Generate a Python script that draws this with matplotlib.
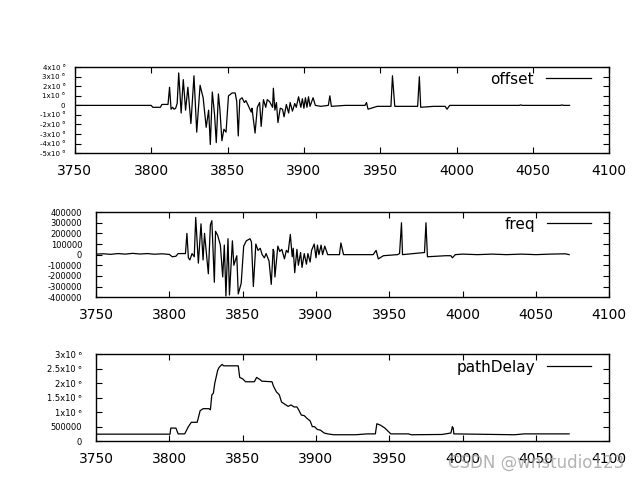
import numpy as np
import matplotlib.pyplot as plt

# offset (values in units of 1e6)
offset_t = [3750, 3800, 3801, 3806, 3807, 3811, 3812, 3813, 3814, 3815, 3816, 3817,
            3818, 3819.6, 3821, 3822.5, 3824, 3826, 3828, 3829.8, 3832, 3834, 3836, 3837.6,
            3838.7, 3840, 3841.5, 3842.6, 3844, 3845, 3846.3, 3847.6, 3849, 3850.6, 3853, 3855,
            3856, 3857, 3858, 3859.5, 3861, 3862, 3863.5, 3865.5, 3866, 3868, 3869.5, 3871,
            3872, 3873.5, 3875, 3876, 3877.5, 3879.5, 3880, 3881, 3882, 3883, 3884.5, 3886,
            3887, 3888.5, 3890, 3891, 3892.5, 3894, 3895, 3896.5, 3898, 3899, 3900, 3901,
            3902, 3903, 3904, 3906, 3907.5, 3911, 3916, 3917, 3918, 3927, 3940, 3941,
            3942, 3944, 3948, 3957, 3958, 3959.5, 3974.5, 3975.6, 3976.5, 3985, 3992.5, 3993.7,
            3995.5, 4041, 4042, 4043, 4068, 4069, 4070, 4074]
offset_v = [0, 0, -0.2, -0.2, 0.1, 0.1, 1.9, -0.4, -0.2, -0.4, -0.3, 0.2,
            3.4, -0.8, 2.7, -0.5, 1.9, -1.9, 3.1, -2.8, 2.1, 0.8, -2.3, -0.5,
            -4.1, 1.4, -1.0, -3.9, 1.2, -0.5, -3.7, -2.5, -2.8, 1.0, 1.3, 1.3,
            0.4, -3.2, 0.6, 0.8, 0.3, 0.5, 0, -0.7, -0.3, -2.9, -0.2, 0.3,
            -2.2, 0.6, -0.2, 0.6, 0.4, -0.2, 1.8, -0.5, 0.3, -1.8, -0.3, -0.4,
            -1.2, 0.1, -0.8, 0.3, -0.6, 0.2, -0.2, 0.9, -0.2, 0.7, -0.3, 0.8,
            -0.2, 0.9, -0.1, 0.8, 0, -0.1, 0, 1.0, -0.1, 0, 0, 0.3,
            -0.4, -0.3, -0.1, -0.1, 3.1, -0.1, -0.1, 3.0, -0.2, -0.1, -0.1, -0.4,
            0, 0, 0.05, 0, 0, 0.05, 0, 0]

freq_t = [3750, 3755, 3760, 3765, 3770, 3775, 3780, 3785, 3790, 3795, 3800, 3802,
          3804.5, 3806, 3811, 3812, 3813, 3814, 3815.5, 3817, 3818, 3819.8, 3821.6, 3823,
          3824, 3826.6, 3828, 3829, 3830.7, 3831.5, 3833, 3834.8, 3836.4, 3837.5, 3838.6, 3840,
          3841, 3843, 3844, 3846, 3847, 3849, 3850.7, 3852.5, 3855, 3856, 3857.3, 3859,
          3860.5, 3862, 3863.3, 3864.8, 3866, 3868, 3869.5, 3870.8, 3871.3, 3872, 3874, 3875.3,
          3876.7, 3878.5, 3879.8, 3881, 3882.5, 3883.8, 3884.5, 3885.5, 3887, 3888, 3889.5, 3890.5,
          3892, 3893.5, 3894.5, 3896, 3897, 3898.8, 3900, 3901, 3902, 3903.5, 3904.5, 3906,
          3908, 3916, 3917, 3918.8, 3939, 3941, 3942.5, 3946, 3955.6, 3957, 3958.3, 3959,
          3974, 3975, 3976, 3988.5, 3992, 3993, 3995, 4000, 4010, 4020, 4030, 4040,
          4050, 4060, 4070, 4072.6]
freq_v = [5000, 8000, 3000, 10000, 5000, 12000, 6000, 10000, 4000, 8000, 2000, -20000,
          -15000, 10000, 10000, 200000, -30000, -50000, 10000, -20000, 350000, -80000, 290000, -50000,
          200000, -180000, 280000, 320000, -260000, 220000, 180000, 90000, -210000, 90000, -390000, 150000,
          -380000, 130000, -100000, -10000, -370000, -270000, 80000, 130000, 150000, 120000, -300000, 100000,
          40000, 60000, 0, -30000, 10000, -60000, -280000, 50000, 30000, -210000, 80000, 30000,
          50000, -40000, 40000, 20000, 190000, -20000, 60000, -170000, 50000, -100000, 20000, -120000,
          10000, -90000, 10000, -70000, 40000, 100000, -30000, 90000, 0, 90000, 0, 80000,
          0, 0, 110000, 0, 0, 40000, -40000, -10000, 0, 10000, 300000, 0,
          20000, 300000, -20000, -10000, -10000, -30000, 0, 5000, 0, 5000, 0, 5000,
          0, 5000, 8000, 0]

# pathDelay (values in units of 1e6)
delay_t = [3750, 3800.5, 3801, 3804.5, 3806, 3810.5, 3813, 3815, 3819, 3821, 3823, 3827,
           3828, 3829, 3830, 3831, 3833, 3834, 3836, 3837, 3847, 3848, 3850, 3852,
           3858, 3859.5, 3862, 3863, 3870, 3871, 3873, 3875, 3876.5, 3878, 3881, 3883,
           3885, 3887, 3888, 3890, 3892, 3894, 3896, 3897.5, 3899, 3901, 3903, 3905.6,
           3908, 3912, 3927, 3935, 3940.5, 3941.5, 3944, 3947, 3949, 3951, 3963, 3965,
           3986, 3992, 3993, 3993.6, 3994, 4035.6, 4042, 4072.6]
delay_v = [0.24, 0.24, 0.45, 0.45, 0.25, 0.25, 0.5, 0.65, 0.65, 1.05, 1.12, 1.12,
           1.08, 1.6, 1.65, 2.0, 2.45, 2.55, 2.65, 2.6, 2.6, 2.2, 2.15, 2.05,
           2.05, 2.2, 2.12, 2.07, 2.05, 1.9, 1.7, 1.6, 1.35, 1.3, 1.2, 1.25,
           1.18, 1.18, 1.1, 0.9, 0.88, 0.78, 0.7, 0.5, 0.5, 0.4, 0.38, 0.28,
           0.25, 0.22, 0.22, 0.25, 0.25, 0.6, 0.55, 0.45, 0.35, 0.25, 0.25, 0.22,
           0.23, 0.28, 0.5, 0.45, 0.25, 0.22, 0.25, 0.25]

xticks = [3750, 3800, 3850, 3900, 3950, 4000, 4050, 4100]
offset_ticks = [4, 3, 2, 1, 0, -1, -2, -3, -4, -5]
freq_ticks = [400000, 300000, 200000, 100000, 0, -100000, -200000, -300000, -400000]
delay_ticks = [0, 0.5, 1, 1.5, 2, 2.5, 3]


def sci(v):
    if v == 0:
        return '0'
    return '%gx10 \u2076' % v


def style(ax, ylim, yticks, ylabels, ysize, ypad, leg_y):
    ax.set_xlim(3750, 4100)
    ax.set_ylim(*ylim)
    ax.set_xticks(xticks)
    ax.set_yticks(yticks)
    ax.set_yticklabels(ylabels)
    ax.tick_params(axis='x', direction='in', top=True, length=4, labelsize=10, pad=8)
    ax.tick_params(axis='y', direction='in', right=True, length=4, labelsize=ysize, pad=ypad)
    for s in ax.spines.values():
        s.set_linewidth(1.0)
    ax.legend(loc='center right', bbox_to_anchor=(0.965, leg_y), frameon=False,
              markerfirst=False, fontsize=11, handlelength=2.9, borderaxespad=0,
              borderpad=0, handletextpad=0.8)


fig = plt.figure(figsize=(6.4, 4.8), dpi=100)

ax1 = fig.add_axes([0.117, 0.681, 0.835, 0.179])
ax1.plot(offset_t, np.array(offset_v) * 1e6, color='black', lw=0.9, label='offset')
style(ax1, (-5e6, 4e6), [v * 1e6 for v in offset_ticks],
      [sci(v) for v in offset_ticks], 5, 7, 0.86)

ax2 = fig.add_axes([0.15, 0.381, 0.802, 0.177])
ax2.plot(freq_t, freq_v, color='black', lw=0.9, label='freq')
style(ax2, (-400000, 400000), freq_ticks, [str(v) for v in freq_ticks], 6, 10, 0.86)

ax3 = fig.add_axes([0.15, 0.081, 0.802, 0.181])
ax3.plot(delay_t, np.array(delay_v) * 1e6, color='black', lw=0.9, label='pathDelay')
delay_labels = ['0', '500000'] + [sci(v) for v in delay_ticks[2:]]
style(ax3, (0, 3e6), [v * 1e6 for v in delay_ticks], delay_labels, 6, 10, 0.85)

fig.text(0.975, 0.035, 'CSDN @wnstudio123', ha='right', va='center',
         fontsize=12, color='#a0a0a0', alpha=0.8)

fig.savefig('out.png', dpi=100)
